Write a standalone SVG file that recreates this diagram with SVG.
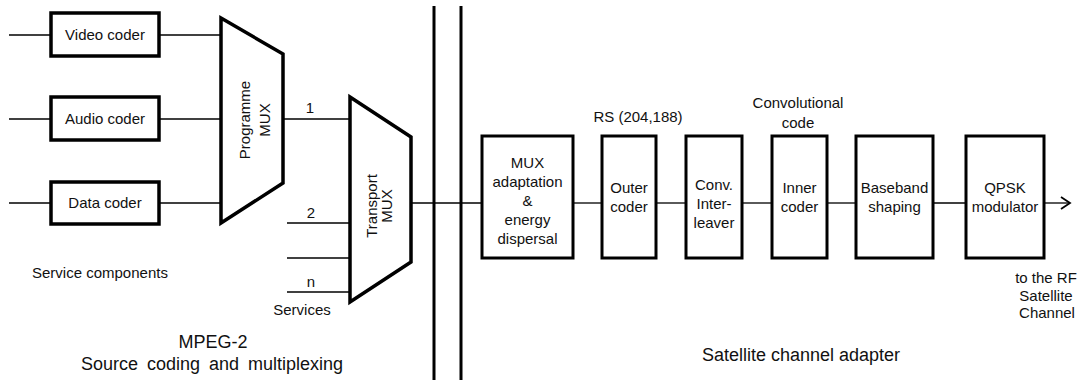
<svg xmlns="http://www.w3.org/2000/svg" width="1077" height="382" viewBox="0 0 1077 382">
<style>
text{font-family:"Liberation Sans",Arial,sans-serif;fill:#111;}
.s{font-size:15px;}
.c{text-anchor:middle;}
.big{font-size:18px;}
.box{fill:#fff;stroke:#000;stroke-width:3.5;}
.blk{fill:#fff;stroke:#000;stroke-width:3;}
.mux{fill:#fff;stroke:#000;stroke-width:3.5;stroke-linejoin:miter;}
.ln{stroke:#000;stroke-width:1.3;fill:none;}
.bar{stroke:#000;stroke-width:3;}
</style>
<defs>
<marker id="arr" markerWidth="12" markerHeight="14" refX="10" refY="7" orient="auto" markerUnits="userSpaceOnUse">
<path d="M1,1 L10,7 L1,13" fill="none" stroke="#000" stroke-width="1.8"/>
</marker>
</defs>
<g id="connectors">
<line class="ln" x1="9" y1="35" x2="51" y2="35"/>
<line class="ln" x1="9" y1="119" x2="51" y2="119"/>
<line class="ln" x1="9" y1="203" x2="51" y2="203"/>
<line class="ln" x1="159" y1="35" x2="221" y2="35"/>
<line class="ln" x1="159" y1="119" x2="221" y2="119"/>
<line class="ln" x1="159" y1="203" x2="221" y2="203"/>
<line class="ln" x1="283" y1="119" x2="350" y2="119"/>
<line class="ln" x1="287" y1="223" x2="350" y2="223"/>
<line class="ln" x1="287" y1="258" x2="350" y2="258"/>
<line class="ln" x1="287" y1="292" x2="350" y2="292"/>
<line class="ln" x1="411" y1="203" x2="482" y2="203"/>
<line class="ln" x1="573" y1="203" x2="602" y2="203"/>
<line class="ln" x1="656" y1="203" x2="686" y2="203"/>
<line class="ln" x1="742" y1="203" x2="772" y2="203"/>
<line class="ln" x1="827" y1="203" x2="856" y2="203"/>
<line class="ln" x1="933" y1="203" x2="966" y2="203"/>
<line class="ln" x1="1044" y1="203" x2="1070" y2="203" marker-end="url(#arr)"/>
</g>
<g id="divider">
<line class="bar" x1="434" y1="6" x2="434" y2="380"/>
<line class="bar" x1="461" y1="6" x2="461" y2="380"/>
</g>
<g id="video-coder">
<rect class="box" x="51" y="13" width="108" height="43"/>
<text class="s c" x="105" y="40">Video coder</text>
</g>
<g id="audio-coder">
<rect class="box" x="51" y="97" width="108" height="43"/>
<text class="s c" x="105" y="124">Audio coder</text>
</g>
<g id="data-coder">
<rect class="box" x="51" y="182" width="108" height="42"/>
<text class="s c" x="105" y="208">Data coder</text>
</g>
<g id="programme-mux">
<polygon class="mux" points="221,18 283,54 283,183 221,223"/>
<g transform="translate(254,120) rotate(-90)">
<text class="s c" x="0" y="-4">Programme</text>
<text class="s c" x="0" y="16">MUX</text>
</g>
</g>
<g id="transport-mux">
<polygon class="mux" points="350,97 411,137 411,262 350,302"/>
<g transform="translate(380,206) rotate(-90)">
<text class="s c" x="0" y="-3">Transport</text>
<text class="s c" x="0" y="12">MUX</text>
</g>
</g>
<g id="labels-left">
<text class="s c" x="310" y="113">1</text>
<text class="s c" x="311" y="218">2</text>
<text class="s c" x="311" y="287">n</text>
<text class="s c" x="302" y="315">Services</text>
<text class="s" x="32" y="278">Service components</text>
<text class="big c" x="213" y="348">MPEG-2</text>
<text class="big c" x="212" y="370" style="word-spacing:4px">Source coding and multiplexing</text>
</g>
<g id="mux-adaptation">
<rect class="blk" x="482" y="136" width="91" height="122"/>
<text class="s c" x="527.5" y="168">MUX</text>
<text class="s c" x="527.5" y="187">adaptation</text>
<text class="s c" x="527.5" y="206">&amp;</text>
<text class="s c" x="527.5" y="225">energy</text>
<text class="s c" x="527.5" y="244">dispersal</text>
</g>
<g id="outer-coder">
<rect class="blk" x="602" y="136" width="54" height="122"/>
<text class="s c" x="629" y="193">Outer</text>
<text class="s c" x="629" y="212">coder</text>
<text class="s c" x="638" y="122">RS (204,188)</text>
</g>
<g id="interleaver">
<rect class="blk" x="686" y="136" width="56" height="122"/>
<text class="s c" x="714" y="190">Conv.</text>
<text class="s c" x="714" y="209">Inter-</text>
<text class="s c" x="714" y="228">leaver</text>
</g>
<g id="inner-coder">
<rect class="blk" x="772" y="136" width="55" height="122"/>
<text class="s c" x="799.5" y="193">Inner</text>
<text class="s c" x="799.5" y="212">coder</text>
<text class="s c" x="798" y="108">Convolutional</text>
<text class="s c" x="798" y="128">code</text>
</g>
<g id="baseband-shaping">
<rect class="blk" x="856" y="136" width="77" height="122"/>
<text class="s c" x="894.5" y="193">Baseband</text>
<text class="s c" x="894.5" y="212">shaping</text>
</g>
<g id="qpsk-modulator">
<rect class="blk" x="966" y="136" width="78" height="122"/>
<text class="s c" x="1005" y="193">QPSK</text>
<text class="s c" x="1005" y="212">modulator</text>
</g>
<g id="labels-right">
<text class="s c" x="1046" y="283">to the RF</text>
<text class="s c" x="1046" y="301">Satellite</text>
<text class="s c" x="1047" y="318">Channel</text>
<text class="big c" x="801" y="361">Satellite channel adapter</text>
</g>
</svg>
